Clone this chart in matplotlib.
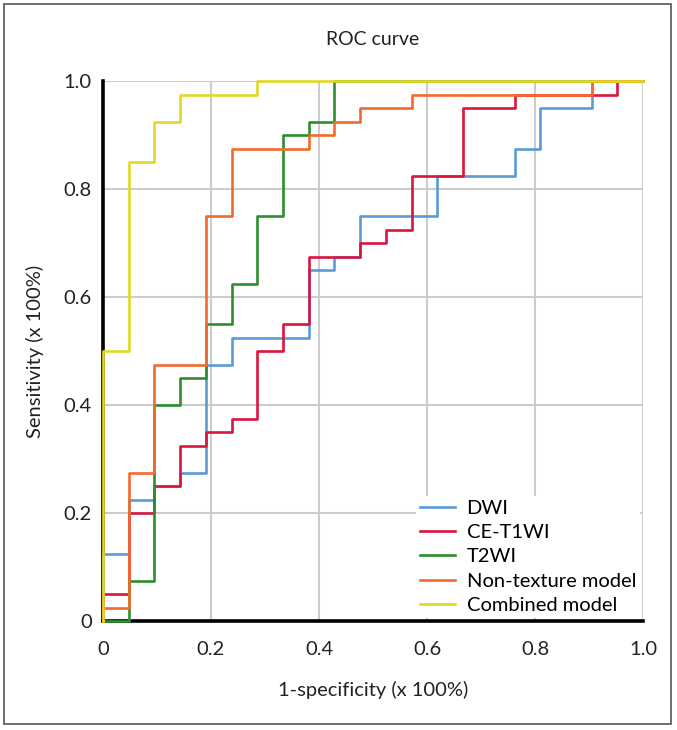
import numpy as np
import matplotlib
matplotlib.use('Agg')
import matplotlib.pyplot as plt
from matplotlib.patches import Rectangle

plt.rcParams['font.family'] = ['Lato', 'DejaVu Sans']

# number of negatives (false positive step = 1/21)
n_neg = 21

# ROC corner points: false positive counts and sensitivity
dwi_fp = [0, 0, 1, 1, 2, 2, 3, 3, 4, 4, 5, 5, 8, 8, 9, 9, 10, 10, 13, 13, 16, 16, 17, 17, 19, 19, 21]
dwi_tp = [0, .125, .125, .225, .225, .25, .25, .275, .275, .475, .475, .525, .525, .65, .65, .675,
          .675, .75, .75, .825, .825, .875, .875, .95, .95, 1, 1]

ce_fp = [0, 0, 1, 1, 2, 2, 3, 3, 4, 4, 5, 5, 6, 6, 7, 7, 8, 8, 10, 10, 11, 11, 12, 12, 14, 14, 16, 16, 20, 20, 21]
ce_tp = [0, .05, .05, .2, .2, .25, .25, .325, .325, .35, .35, .375, .375, .5, .5, .55, .55, .675, .675,
         .7, .7, .725, .725, .825, .825, .95, .95, .975, .975, 1, 1]

t2_fp = [0, 1, 1, 2, 2, 3, 3, 4, 4, 5, 5, 6, 6, 7, 7, 8, 8, 9, 9, 21]
t2_tp = [0, 0, .075, .075, .4, .4, .45, .45, .55, .55, .625, .625, .75, .75, .9, .9, .925, .925, 1, 1]

nt_fp = [0, 0, 1, 1, 2, 2, 4, 4, 5, 5, 8, 8, 9, 9, 10, 10, 12, 12, 19, 19, 21]
nt_tp = [0, .025, .025, .275, .275, .475, .475, .75, .75, .875, .875, .9, .9, .925, .925, .95, .95,
         .975, .975, 1, 1]

cm_fp = [0, 0, 1, 1, 2, 2, 3, 3, 6, 6, 21]
cm_tp = [0, .5, .5, .85, .85, .925, .925, .975, .975, 1, 1]

names = ['DWI', 'CE-T1WI', 'T2WI', 'Non-texture model', 'Combined model']
colors = ['#5a9ad8', '#d8163e', '#2e8e2e', '#f46a2c', '#e2d822']
ticks = [0, 0.2, 0.4, 0.6, 0.8, 1.0]
tick_labels = ['0', '0.2', '0.4', '0.6', '0.8', '1.0']

fig = plt.figure(figsize=(6.77, 7.30), dpi=100)
fig.patches.append(Rectangle((0.006, 0.008), 0.985, 0.986, transform=fig.transFigure,
                             fill=False, edgecolor='#555555', linewidth=1.2))
ax = fig.add_axes([0.152, 0.149, 0.798, 0.740])

curves = [(dwi_fp, dwi_tp), (ce_fp, ce_tp), (t2_fp, t2_tp), (nt_fp, nt_tp), (cm_fp, cm_tp)]
for (fp, tp), name, c in zip(curves, names, colors):
    ax.plot(np.array(fp) / n_neg, tp, color=c, lw=1.9, label=name, clip_on=False, zorder=3)

ax.set_xlim(0, 1)
ax.set_ylim(0, 1)
ax.set_xticks(ticks)
ax.set_xticklabels(tick_labels)
ax.set_yticks(ticks)
ax.set_yticklabels(tick_labels)
ax.tick_params(length=0, labelsize=14.5, colors='#222222')
ax.tick_params(axis='x', pad=14)
ax.tick_params(axis='y', pad=8)
ax.grid(True, color='#cccccc', lw=1.5)
ax.set_axisbelow(True)
for s in ['top', 'right']:
    ax.spines[s].set_visible(False)
for s in ['left', 'bottom']:
    ax.spines[s].set_color('black')
    ax.spines[s].set_linewidth(2.6)

ax.set_title('ROC curve', fontsize=14, pad=26, color='#222222')
ax.set_xlabel('1-specificity (x 100%)', fontsize=14.5, labelpad=17, color='#222222')
ax.set_ylabel('Sensitivity (x 100%)', fontsize=14.5, labelpad=14, color='#222222')

leg = ax.legend(loc='lower right', fontsize=14.5, frameon=True, fancybox=False, handlelength=1.7,
                borderaxespad=0.15, labelspacing=0.36, handletextpad=0.6, borderpad=0.2)
leg.get_frame().set_edgecolor('none')
leg.get_frame().set_facecolor('white')
leg.get_frame().set_alpha(1)

fig.savefig('out.png', dpi=100)
